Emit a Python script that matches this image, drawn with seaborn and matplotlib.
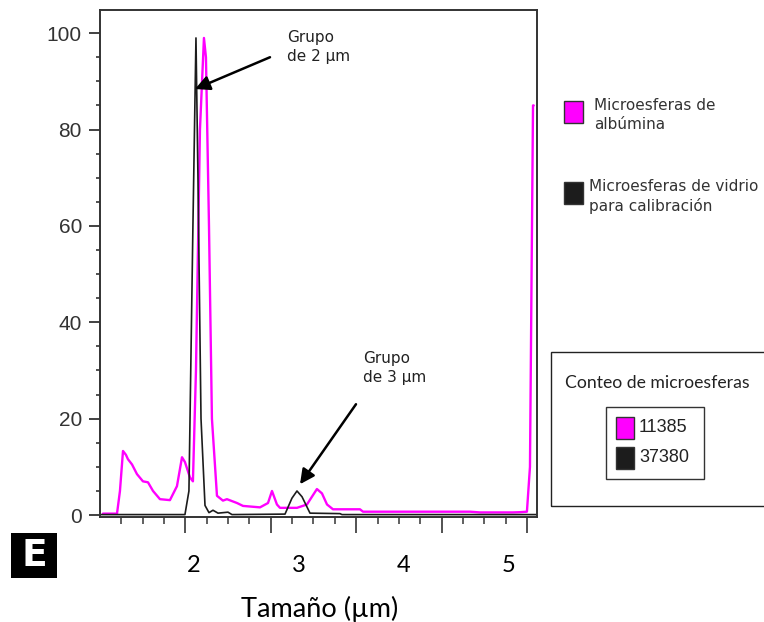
import numpy as np
import pandas as pd
import matplotlib
matplotlib.use("Agg")
import matplotlib.pyplot as plt
import seaborn as sns
from matplotlib.patches import Rectangle
from matplotlib.ticker import FixedLocator, MultipleLocator

# ---------------- data ----------------
alb_x = [1.133, 1.267, 1.295, 1.324, 1.352, 1.371, 1.410, 1.457, 1.514, 1.562,
         1.610, 1.676, 1.771, 1.838, 1.886, 1.914, 1.962, 1.990, 2.019, 2.057,
         2.095, 2.114, 2.143, 2.171, 2.219, 2.276, 2.314, 2.410, 2.467, 2.629,
         2.705, 2.743, 2.790, 2.819, 2.981, 3.076, 3.171, 3.219, 3.267, 3.324,
         3.581, 3.610, 4.629, 4.724, 5.038, 5.105, 5.171, 5.200, 5.229, 5.235]
alb_y = [0.3, 0.3, 5.0, 13.3, 12.5, 11.6, 10.5, 8.5, 7.0, 6.8,
         5.0, 3.3, 3.1, 6.0, 12.0, 11.0, 7.8, 7.0, 30.0, 80.0,
         99.0, 95.0, 60.0, 20.0, 4.0, 3.0, 3.3, 2.5, 1.9, 1.6,
         2.5, 5.0, 2.2, 1.5, 1.5, 2.2, 5.4, 4.5, 2.2, 1.2,
         1.2, 0.7, 0.7, 0.55, 0.55, 0.6, 0.7, 10.0, 85.0, 85.0]

cal_x = [1.105, 1.914, 1.952, 1.990, 2.019, 2.038, 2.067, 2.105, 2.143, 2.181,
         2.229, 2.324, 2.362, 2.867, 2.933, 2.981, 3.029, 3.105, 3.390, 3.410,
         5.267]
cal_y = [0.1, 0.1, 5.0, 60.0, 99.0, 70.0, 20.0, 2.0, 0.5, 1.0,
         0.4, 0.6, 0.1, 0.2, 3.5, 5.0, 3.8, 0.4, 0.3, 0.1,
         0.1]

series_names = ["Microesferas de\nalbúmina", "Microesferas de vidrio\npara calibración"]
series_colors = ["#FF00FF", "#1c1c1c"]
counts = ["11385", "37380"]
x_tick_labels = [2, 3, 4, 5]
y_ticks = [0, 20, 40, 60, 80, 100]

df = pd.concat([
    pd.DataFrame({"size": alb_x, "pct": alb_y, "series": series_names[0]}),
    pd.DataFrame({"size": cal_x, "pct": cal_y, "series": series_names[1]}),
], ignore_index=True)

# ---------------- figure ----------------
sns.set_style("ticks")
W, H = 764, 622
fig = plt.figure(figsize=(W / 100, H / 100), dpi=100)

def fx(px):
    return px / W

def fy(py):
    return 1 - py / H

ax = fig.add_axes([fx(100), fy(517), 437 / W, 507 / H])

sns.lineplot(data=df, x="size", y="pct", hue="series", hue_order=series_names,
             palette=dict(zip(series_names, series_colors)), sort=False,
             estimator=None, legend=False, ax=ax)
ax.lines[0].set_linewidth(1.7)
ax.lines[1].set_linewidth(1.2)

ax.set_xlim(1.105, 5.267)
ax.set_ylim(-0.4, 104.8)
ax.set_xlabel("")
ax.set_ylabel("")

for s in ax.spines.values():
    s.set_visible(True)
    s.set_color("#333333")
    s.set_linewidth(1.4)

# y ticks
ax.set_yticks(y_ticks)
ax.yaxis.set_minor_locator(MultipleLocator(5))
ax.tick_params(axis="y", which="major", length=8, width=1.3, color="#333333",
               pad=5, labelsize=15, labelcolor="#333333")
ax.tick_params(axis="y", which="minor", length=3, width=1.2, color="#333333")
for lab in ax.get_yticklabels():
    lab.set_family("Liberation Sans")

# instrument tick marks (unlabelled) on the x axis
inst_px = np.linspace(100, 527, 21)
inst_vals = 2 + (inst_px - 194) / 105
ax.xaxis.set_major_locator(FixedLocator(inst_vals[::4]))
ax.xaxis.set_minor_locator(FixedLocator(inst_vals))
ax.set_xticklabels([])
ax.tick_params(axis="x", which="major", length=11.5, width=1.3, color="#444444")
ax.tick_params(axis="x", which="minor", length=5, width=1.2, color="#444444")

# size labels in µm
for v in x_tick_labels:
    ax.text(v, -0.095, str(v), transform=ax.get_xaxis_transform(), ha="center",
            va="center", fontsize=17, family="Lato", color="black")

fig.text(fx(320), fy(609), "Tamaño (µm)", ha="center", va="center",
         fontsize=19.5, family="Lato", color="black")

# annotations
ann_font = dict(fontsize=11, family="DejaVu Sans", color="#222222", linespacing=1.35)
ax.text(2.886, 100.6, "Grupo\nde 2 µm", ha="left", va="top", **ann_font)
ax.annotate("", xy=(2.01, 88.4), xytext=(2.724, 95.0),
            arrowprops=dict(arrowstyle="-|>", mutation_scale=22, lw=1.8,
                            color="black", shrinkA=0, shrinkB=0))
ax.text(3.61, 34.0, "Grupo\nde 3 µm", ha="left", va="top", **ann_font)
ax.annotate("", xy=(3.01, 6.4), xytext=(3.543, 23.0),
            arrowprops=dict(arrowstyle="-|>", mutation_scale=22, lw=1.8,
                            color="black", shrinkA=0, shrinkB=0))

# panel letter
fig.add_artist(Rectangle((fx(11), fy(578)), 46 / W, 45 / H, transform=fig.transFigure,
                         facecolor="black", edgecolor="none"))
fig.text(fx(34), fy(556), "E", ha="center", va="center", fontsize=27,
         fontweight="bold", family="DejaVu Sans", color="white")

# series legend
leg_tops = [101, 182]
leg_text_x = [594, 589]
for name, col, top, tx in zip(series_names, series_colors, leg_tops, leg_text_x):
    fig.add_artist(Rectangle((fx(564), fy(top + 22)), 19 / W, 22 / H,
                             transform=fig.transFigure, facecolor=col,
                             edgecolor="#333333", lw=1.0))
    fig.text(fx(tx), fy(top - 3), name, ha="left", va="top", fontsize=11,
             family="DejaVu Sans", color="#333333", linespacing=1.3)

# count box
fig.add_artist(Rectangle((fx(551), fy(506)), 230 / W, 154 / H, transform=fig.transFigure,
                         facecolor="none", edgecolor="#222222", lw=1.0))
fig.text(fx(565), fy(383), "Conteo de microesferas", ha="left", va="center",
         fontsize=12.7, family="Lato", color="#222222")
fig.add_artist(Rectangle((fx(606), fy(479)), 98 / W, 72 / H, transform=fig.transFigure,
                         facecolor="none", edgecolor="#333333", lw=1.0))
for cnt, col, top in zip(counts, series_colors, [417, 447]):
    fig.add_artist(Rectangle((fx(616), fy(top + 22)), 18 / W, 22 / H,
                             transform=fig.transFigure, facecolor=col,
                             edgecolor="#333333", lw=1.0))
    fig.text(fx(639), fy(top + 11), cnt, ha="left", va="center", fontsize=13,
             family="Liberation Sans", color="#222222")

fig.savefig("out.png", dpi=100)
